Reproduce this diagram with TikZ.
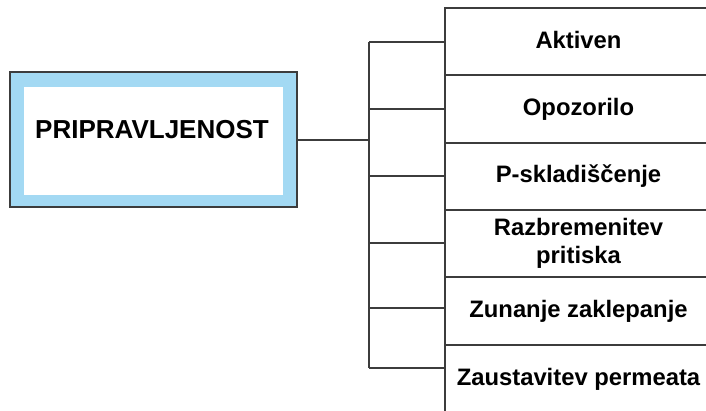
\documentclass[tikz,border=0pt]{standalone}
\usepackage{fontspec}
\setmainfont{Liberation Sans}
\definecolor{frameblue}{HTML}{A3D9F3}
\definecolor{linegray}{HTML}{3C3C3C}
\begin{document}
\begin{tikzpicture}[x=1pt,y=-1pt,line width=2pt,
  mainbox/.style={draw=linegray,line width=2.5pt,fill=frameblue,rectangle,inner sep=0pt},
  innerbox/.style={fill=white,rectangle,inner sep=0pt},
  titletext/.style={font=\bfseries\fontsize{26}{30}\selectfont,inner sep=0pt},
  cellbox/.style={draw=linegray,rectangle,inner sep=0pt,minimum width=267pt,align=center,
    font=\bfseries\fontsize{23.8}{28}\selectfont},
  wire/.style={draw=linegray,line width=2pt}]
\clip (0,0) rectangle (706,410);
\fill[white] (0,0) rectangle (706,410);
% main box
\node[mainbox,minimum width=287pt,minimum height=135pt] (main) at (153.5,139.5) {};
\node[innerbox,minimum width=259pt,minimum height=108pt] (inner) at (153.5,141) {};
\node[titletext] (title) at (152,130) {PRIPRAVLJENOST};
% cells
\node[cellbox,minimum height=67pt] (c1) at (578.5,41.5) {\raisebox{4pt}{Aktiven}};
\node[cellbox,minimum height=68pt] (c2) at (578.5,109) {\raisebox{3pt}{Opozorilo}};
\node[cellbox,minimum height=67pt] (c3) at (578.5,176.5) {P-skladiščenje};
\node[cellbox,minimum height=67pt] (c4) at (578.5,243.5) {Razbremenitev\\pritiska};
\node[cellbox,minimum height=68pt] (c5) at (578.5,311) {Zunanje zaklepanje};
\node[cellbox,minimum height=69pt] (c6) at (578.5,379.5) {\raisebox{3pt}{Zaustavitev permeata}};
% bus
\coordinate (hub) at (369,139.5);
\coordinate (b1) at (369,42);
\coordinate (b2) at (369,109);
\coordinate (b3) at (369,176);
\coordinate (b4) at (369,243);
\coordinate (b5) at (369,308);
\coordinate (b6) at (369,368);
\draw[wire] (main.east) -- (hub);
\draw[wire] (b1) -- (b6);
\draw[wire] (b1) -- (b1 -| c1.west);
\draw[wire] (b2) -- (b2 -| c2.west);
\draw[wire] (b3) -- (b3 -| c3.west);
\draw[wire] (b4) -- (b4 -| c4.west);
\draw[wire] (b5) -- (b5 -| c5.west);
\draw[wire] (b6) -- (b6 -| c6.west);
\end{tikzpicture}
\end{document}
